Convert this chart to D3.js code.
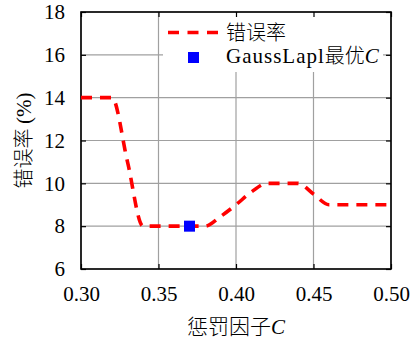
<!DOCTYPE html>
<html><head><meta charset="utf-8">
<script src="https://cdn.jsdelivr.net/npm/d3@7"></script>
<style>body{margin:0;background:#fff}svg{display:block}
.serif{font-family:"Liberation Serif","DejaVu Serif",serif}
.cjk{font-family:"Noto Sans CJK SC",sans-serif}
.axis text{font-family:"Liberation Serif",serif !important;font-size:21px}
</style>
</head><body>
<script>
const cValues = [0.30,0.31,0.32,0.33,0.34,0.35,0.36,0.37,0.38,0.39,0.40,0.41,0.42,0.43,0.44,0.45,0.46,0.47,0.48,0.49,0.50];
const errorRate = [14,14,14,11,8,8,8,8,8,8.45,9,9.6,10,10,10,9.5,9,9,9,9,9];
const bestC = [0.37];
const bestErr = [8];
const xTicks = [0.30,0.35,0.40,0.45,0.50];
const yTicks = [6,8,10,12,14,16,18];
const legendLabels = ["错误率","GaussLapl最优"];

const W=410,H=341;
const m={l:81,r:19,t:12,b:72};
const svg=d3.select("body").append("svg").attr("width",W).attr("height",H);
const x=d3.scaleLinear().domain([0.30,0.50]).range([m.l,W-m.r]);
const y=d3.scaleLinear().domain([6,18]).range([H-m.b,m.t]);

// grid
const g=svg.append("g");
g.selectAll(".gx").data(xTicks).join("line").attr("x1",d=>x(d)).attr("x2",d=>x(d))
 .attr("y1",y(6)).attr("y2",y(18)).attr("stroke","#a0a0a0").attr("stroke-width",1.2);
g.selectAll(".gy").data(yTicks).join("line").attr("y1",d=>y(d)).attr("y2",d=>y(d))
 .attr("x1",x(0.30)).attr("x2",x(0.50)).attr("stroke","#a0a0a0").attr("stroke-width",1.2);

// legend background
svg.append("rect").attr("x",163).attr("y",y(18)+1).attr("width",220).attr("height",59).attr("fill","#fff");

// axes with inward ticks
const ax=d3.axisBottom(x).tickValues(xTicks).tickSize(-5).tickFormat(d3.format(".2f"));
const ay=d3.axisLeft(y).tickValues(yTicks).tickSize(-5).tickFormat(d3.format("d"));
const gxA=svg.append("g").attr("class","axis").attr("transform",`translate(0,${y(6)})`).call(ax);
gxA.attr("font-family","Liberation Serif").attr("font-size",21);
gxA.selectAll("text").attr("y",17).attr("dy","0.71em");
const gyA=svg.append("g").attr("class","axis").attr("transform",`translate(${x(0.30)},0)`).call(ay);
gyA.attr("font-family","Liberation Serif").attr("font-size",21);
gyA.selectAll("text").attr("x",-16);
svg.append("g").attr("transform",`translate(0,${y(18)})`).call(d3.axisTop(x).tickValues(xTicks).tickSize(-5).tickFormat(""));
svg.append("g").attr("transform",`translate(${x(0.50)},0)`).call(d3.axisRight(y).tickValues(yTicks).tickSize(-5).tickFormat(""));
svg.selectAll(".domain").remove();
svg.selectAll(".tick line").attr("stroke","#000").attr("stroke-width",1.2);
svg.selectAll(".tick text").attr("fill","#000");
svg.append("rect").attr("x",x(0.30)).attr("y",y(18)).attr("width",x(0.50)-x(0.30)).attr("height",y(6)-y(18))
 .attr("fill","none").attr("stroke","#000").attr("stroke-width",1.6);

// line
const data=cValues.map((c,i)=>({c,v:errorRate[i]}));
svg.append("path").datum(data).attr("fill","none").attr("stroke","#ff0000").attr("stroke-width",3.6)
 .attr("stroke-dasharray","11,8")
 .attr("d",d3.line().x(d=>x(d.c)).y(d=>y(d.v)).curve(d3.curveMonotoneX));

// best point
svg.selectAll(".best").data(bestC).join("rect").attr("x",(d)=>x(d)-5.5).attr("y",(d,i)=>y(bestErr[i])-5.5)
 .attr("width",11).attr("height",11).attr("fill","#0000ff");

// legend
svg.append("line").attr("x1",168).attr("x2",218).attr("y1",32.5).attr("y2",32.5)
 .attr("stroke","#ff0000").attr("stroke-width",3.6).attr("stroke-dasharray","11,8.5");
svg.append("rect").attr("x",188).attr("y",52).attr("width",11).attr("height",11).attr("fill","#0000ff");
svg.append("text").attr("x",226).attr("y",40).attr("class","cjk").style("font-size","20px").style("font-weight","300").text(legendLabels[0]);
const t2=svg.append("text").attr("x",226).attr("y",63).attr("class","serif").style("font-size","21px");
t2.append("tspan").style("letter-spacing","1px").text("GaussLapl");
t2.append("tspan").attr("class","cjk").style("font-size","20px").style("font-weight","300").text("最优");
t2.append("tspan").style("font-style","italic").text("C");

// axis titles
const xt=svg.append("text").attr("x",x(0.40)).attr("y",334).attr("text-anchor","middle").attr("class","cjk").style("font-size","21px").style("font-weight","300");
xt.append("tspan").text("惩罚因子");
xt.append("tspan").attr("class","serif").style("font-style","italic").style("font-size","21px").style("font-weight","400").text("C");
const yt=svg.append("text").attr("transform",`translate(31,${(y(6)+y(18))/2}) rotate(-90)`).attr("text-anchor","middle")
 .attr("class","cjk").style("font-size","20px").style("font-weight","300");
yt.append("tspan").text("错误率 ");
yt.append("tspan").attr("class","serif").style("font-size","21px").style("font-weight","400").text("(%)");
</script>
</body></html>
